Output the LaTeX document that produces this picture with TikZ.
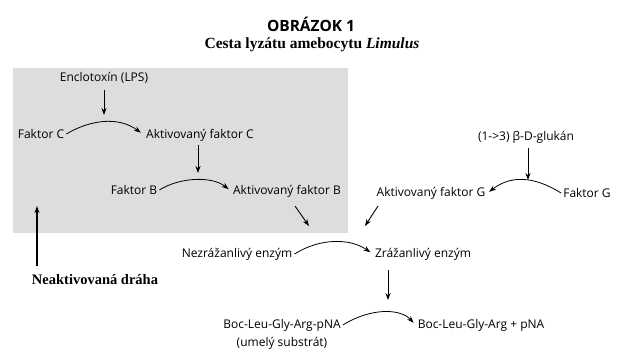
\documentclass[tikz,border=0pt]{standalone}
\usepackage{fontspec}
\setmainfont{Liberation Serif}
\newfontfamily\bodyfont{Open Sans}
\usetikzlibrary{arrows.meta}
\definecolor{boxgray}{HTML}{DCDDDF}
\tikzset{
  lbl/.style={font=\bodyfont\fontsize{12}{14}\selectfont, inner sep=2pt},
  arr/.style={-{Stealth[length=7pt,width=5pt]}, line width=0.9pt},
  carr/.style={-{Stealth[length=7pt,width=5pt]}, line width=0.8pt},
}
\begin{document}
\begin{tikzpicture}[x=1pt,y=-1pt]
\useasboundingbox (0,0) rectangle (623,360);
\fill[boxgray] (13,68) rectangle (348,233);
\node (title) at (311,24) {\bodyfont\fontsize{15.5}{17}\selectfont\bfseries OBRÁZOK 1};
\node (sub) at (312,45) {\fontsize{15.5}{17}\selectfont\bfseries Cesta lyzátu amebocytu \textit{Limulus}};
\node[lbl] (lps) at (104,78) {Enclotoxín (LPS)};
\node[lbl] (fc) at (41,134) {Faktor C};
\node[lbl] (afc) at (200,135) {Aktivovaný faktor C};
\node[lbl] (fb) at (134,190) {Faktor B};
\node[lbl] (afb) at (287,191) {Aktivovaný faktor B};
\node[lbl] (glu) at (526,137) {(1->3) β-D-glukán};
\node[lbl] (fg) at (587,193) {Faktor G};
\node[lbl] (afg) at (431,193) {Aktivovaný faktor G};
\node[lbl] (ne) at (237,254) {Nezrážanlivý enzým};
\node[lbl] (ze) at (423,254) {Zrážanlivý enzým};
\node[lbl] (boc) at (282,325) {Boc-Leu-Gly-Arg-pNA};
\node[lbl] (umely) at (282,343) {(umelý substrát)};
\node[lbl] (bocp) at (481,325) {Boc-Leu-Gly-Arg + pNA};
\node (nd) at (95,280) {\fontsize{14.5}{16}\selectfont\bfseries Neaktivovaná dráha};
% free arrow ends
\coordinate (a1s) at (104,90); \coordinate (a1e) at (104,115);
\coordinate (a2s) at (198,145); \coordinate (a2e) at (198,173);
\coordinate (a3s) at (528,148); \coordinate (a3e) at (528,180);
\coordinate (a4s) at (295,206); \coordinate (a4e) at (309,226);
\coordinate (a5s) at (378,206); \coordinate (a5e) at (365,226);
\coordinate (a6s) at (388,270); \coordinate (a6e) at (388,300);
\coordinate (a7s) at (37,266); \coordinate (a7e) at (37,206);
\draw[arr] (a1s) -- (a1e);
\draw[arr] (a2s) -- (a2e);
\draw[arr] (a3s) -- (a3e);
\draw[arr] (a4s) -- (a4e);
\draw[arr] (a5s) -- (a5e);
\draw[arr] (a6s) -- (a6e);
\draw[arr, line width=1.1pt] (a7s) -- (a7e);
% curved reaction arrows
\draw[carr, shorten >=4pt] (fc.east) .. controls (90,120) and (118,116) .. (afc.west);
\draw[carr, shorten >=3pt] (fb.east) .. controls (180,177) and (212,176) .. (afb.west);
\draw[carr, shorten >=2pt] (fg.west) .. controls (540,180) and (515,172) .. (afg.east);
\draw[carr, shorten >=3pt] (ne.east) .. controls (320,238) and (350,238) .. (ze.west);
\draw[carr, shorten >=3pt] (boc.east) .. controls (370,308) and (400,308) .. (bocp.west);
\end{tikzpicture}
\end{document}
